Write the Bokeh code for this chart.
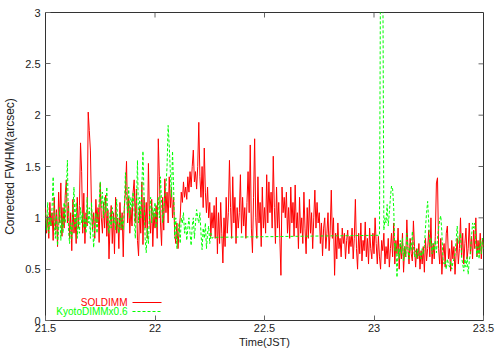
from bokeh.plotting import figure
from bokeh.models import Range1d, FixedTicker, Label, Arrow
from bokeh.embed import file_html
from bokeh.resources import INLINE

# ---------------- data ----------------
t0 = 21.5          # first sample time (JST hours)
dt = 0.005         # sampling step (hours)

sol_fwhm = [
    1.10, 0.85, 1.02, 0.80, 1.15, 0.92, 1.05, 0.78, 1.20, 0.88,
    1.08, 0.72, 1.25, 0.95, 1.34, 0.82, 1.10, 0.90, 1.22, 1.37,
    0.95, 1.15, 0.80, 1.05, 0.68, 1.18, 0.85, 1.00, 0.75, 1.20,
    0.90, 1.12, 1.73, 1.45, 0.85, 1.24, 0.75, 1.05, 0.92, 2.03,
    1.85, 1.66, 1.10, 0.88, 1.05, 0.80, 1.18, 0.95, 1.10, 0.76,
    1.34, 1.00, 0.85, 1.15, 0.90, 1.22, 0.82, 1.08, 0.60, 0.95,
    1.12, 0.75, 1.05, 0.65, 1.20, 0.85, 1.00, 0.70, 1.15, 0.88,
    1.05, 0.62, 1.10, 1.25, 1.55, 0.95, 1.20, 0.85, 1.10, 0.92,
    1.25, 1.37, 0.95, 1.28, 0.78, 0.63, 1.10, 0.85, 1.35, 0.74,
    1.20, 0.90, 1.15, 0.80, 1.53, 1.00, 0.85, 1.18, 0.72, 1.05,
    0.90, 1.12, 0.80, 1.77, 1.40, 0.95, 0.73, 1.20, 0.88, 1.38,
    1.05, 1.25, 0.95, 1.40, 1.10, 1.30, 1.00, 1.20, 0.85, 0.75,
    0.95, 0.70, 0.88, 1.00, 1.25, 1.15, 1.35, 1.20, 1.30, 1.18,
    1.40, 1.25, 1.45, 1.30, 1.50, 1.66, 1.35, 1.45, 1.28, 1.50,
    1.93, 1.40, 1.20, 1.50, 1.10, 1.68, 1.25, 1.05, 1.30, 1.00,
    1.15, 0.82, 1.05, 0.90, 1.12, 0.80, 1.20, 0.65, 1.05, 0.75,
    1.15, 0.85, 0.56, 1.00, 0.72, 1.20, 0.85, 1.05, 1.56, 1.10,
    0.80, 1.40, 0.95, 1.20, 0.75, 1.10, 0.90, 1.05, 1.42, 0.85,
    1.20, 0.92, 1.10, 0.80, 1.15, 1.45, 1.05, 1.71, 0.90, 0.66,
    1.20, 1.77, 1.00, 0.80, 1.40, 0.95, 1.15, 0.72, 1.30, 0.90,
    1.10, 0.85, 1.42, 0.95, 1.35, 1.05, 1.25, 0.90, 1.60, 1.10,
    0.75, 1.30, 0.90, 1.15, 0.80, 0.44, 1.30, 1.05, 1.20, 1.00,
    1.25, 0.85, 1.10, 0.80, 1.30, 0.95, 1.15, 0.82, 1.32, 0.90,
    1.05, 0.70, 1.20, 0.85, 1.00, 0.75, 1.25, 0.90, 0.65, 1.10,
    0.80, 1.18, 0.85, 1.05, 0.70, 1.00, 1.27, 0.90, 1.15, 0.95,
    1.05, 0.75, 0.95, 0.63, 0.90, 1.00, 0.70, 0.85, 1.05, 0.68,
    0.88, 1.27, 0.80, 1.00, 0.44, 0.85, 0.60, 0.95, 0.70, 0.80,
    0.62, 0.90, 0.75, 0.85, 0.60, 0.78, 0.88, 0.65, 0.82, 0.72,
    0.90, 0.60, 0.80, 1.18, 0.70, 0.50, 0.85, 0.65, 0.95, 0.58,
    0.78, 0.68, 0.96, 0.62, 0.80, 0.55, 0.90, 0.70, 0.60, 0.85,
    0.65, 1.00, 0.75, 0.55, 0.82, 0.62, 0.50, 0.78, 0.68, 0.85,
    0.55, 0.72, 0.60, 0.80, 0.52, 0.70, 0.85, 0.62, 0.95, 0.55,
    0.78, 0.65, 0.90, 0.50, 0.75, 0.60, 0.85, 0.47, 0.72, 0.62,
    0.98, 0.70, 0.55, 0.80, 0.65, 0.58, 0.97, 0.72, 0.52, 0.70,
    0.60, 0.75, 0.50, 0.68, 0.55, 0.72, 0.47, 0.80, 0.58, 0.70,
    0.88, 0.62, 1.00, 0.55, 0.75, 0.60, 0.82, 1.34, 1.39, 0.70,
    0.55, 0.80, 0.45, 0.65, 0.75, 0.52, 0.85, 0.92, 0.60, 0.70,
    0.48, 0.78, 0.60, 0.72, 0.45, 0.65, 0.80, 0.55, 0.70, 1.00,
    0.62, 0.85, 0.55, 0.75, 0.90, 0.60, 0.70, 0.95, 0.65, 0.82,
    0.60, 0.88, 0.70, 1.00, 0.62, 0.78, 0.65, 0.85, 0.60, 0.80,
    0.72,
]

# KyotoDIMM x0.6, first block (starts at t0)
kyoto_block1 = [
    1.05, 0.88, 1.15, 0.85, 1.00, 0.92, 1.10, 1.40, 0.95, 0.80,
    1.05, 0.73, 0.90, 1.10, 0.78, 1.00, 0.85, 1.15, 0.95, 1.25,
    1.56, 0.88, 0.75, 0.95, 0.80, 1.05, 1.30, 0.90, 1.15, 0.80,
    1.00, 0.85, 1.10, 0.95, 1.05, 0.90, 1.00, 0.85, 1.20, 0.95,
    1.10, 0.80, 1.15, 0.90, 0.71, 0.95, 1.05, 0.85, 1.00, 1.15,
    1.35, 1.10, 1.25, 1.00, 1.20, 1.05, 1.30, 0.95, 0.85, 1.05,
    0.90, 1.10, 0.95, 1.00, 0.88, 1.18, 0.95, 0.85, 1.05, 0.90,
    1.00, 0.88, 1.10, 1.44, 1.20, 1.05, 1.30, 1.00, 1.20, 1.10,
    1.25, 1.05, 0.80, 1.10, 1.56, 0.95, 1.20, 1.00, 1.30, 1.65,
    1.20, 0.80, 0.66, 0.90, 0.75, 1.05, 1.20, 0.95, 1.10, 1.00,
    1.15, 0.90, 1.05, 1.20, 1.00, 1.40, 1.15, 0.95, 1.08, 1.20,
    1.30, 1.50, 1.90, 1.70, 1.45, 1.20, 1.65, 1.30, 0.80, 1.00,
    0.70, 0.85, 0.95, 0.75, 1.00, 0.95, 1.05, 0.85, 0.95, 0.78,
    0.90, 1.00, 0.85, 0.73, 0.92, 1.00, 0.80, 0.95, 1.08, 1.00,
    0.95, 1.05, 0.85, 0.69, 0.90, 0.80, 0.95, 0.70, 0.85, 0.92,
    0.75, 0.85, 0.80, 0.81,
]

# KyotoDIMM x0.6, second block (after the data gap)
kyoto_block2_start = 23.025
kyoto_block2 = [
    0.83, 3.60, 3.60, 3.60, 0.88, 1.00, 0.95, 1.13, 0.92, 1.05,
    1.20, 1.31, 1.28, 1.10, 0.68, 0.75, 0.42, 0.70, 0.60, 0.78,
    0.65, 0.80, 0.58, 0.72, 0.62, 0.85, 0.70, 0.60, 0.75, 0.68,
    0.87, 0.72, 0.62, 0.68, 0.60, 0.70, 0.63, 0.66, 0.60, 0.70,
    0.64, 0.72, 0.90, 1.05, 1.16, 0.95, 0.72, 0.80, 0.65, 0.75,
    0.68, 0.78, 0.66, 0.80, 0.90, 0.98, 1.02, 0.85, 0.60, 0.55,
    0.58, 0.50, 0.60, 0.55, 0.52, 0.58, 0.50, 0.56, 0.60, 0.65,
    0.78, 0.92, 0.75, 0.80, 0.85, 0.62, 0.55, 0.48, 0.60, 0.52,
    0.62, 0.45, 0.58, 0.65, 0.80, 0.95, 0.90, 0.95, 0.75, 0.62,
    0.72, 0.60, 0.78, 0.65, 0.80, 0.70,
]

series_names = ["SOLDIMM", "KyotoDIMMx0.6"]
x_ticks = [21.5, 22.0, 22.5, 23.0, 23.5]
x_tick_labels = ["21.5", "22", "22.5", "23", "23.5"]
y_ticks = [0.0, 0.5, 1.0, 1.5, 2.0, 2.5, 3.0]
y_tick_labels = ["0", "0.5", "1", "1.5", "2", "2.5", "3"]
x_title = "Time(JST)"
y_title = "Corrected FWHM(arcsec)"

# ---------------- build ----------------
sol_time = [t0 + i * dt for i in range(len(sol_fwhm))]
kyoto_time = ([t0 + i * dt for i in range(len(kyoto_block1))] +
              [kyoto_block2_start + j * dt for j in range(len(kyoto_block2))])
kyoto_fwhm = kyoto_block1 + kyoto_block2

FONT = "Liberation Sans"
RED = "#ff0000"
GREEN = "#00ff00"
TICK = "#666666"
TEXT = "#222222"

W, H = 500, 350
BL, BR, BT, BB = 43, 17, 12, 30
FRAME_W, FRAME_H = W - BL - BR, H - BT - BB
TICK_LEN = 5

x0, x1 = x_ticks[0], x_ticks[-1]
y0, y1 = y_ticks[0], y_ticks[-1]

p = figure(width=W, height=H, output_backend="svg", toolbar_location=None,
           x_range=Range1d(x0, x1), y_range=Range1d(y0, y1),
           min_border_left=BL, min_border_right=BR, min_border_top=BT,
           min_border_bottom=BB)
p.grid.visible = False
p.outline_line_color = "#333333"
p.outline_line_width = 1
p.background_fill_color = "white"
p.border_fill_color = "white"

p.line(sol_time, sol_fwhm, line_color=RED, line_width=1)
p.line(kyoto_time, kyoto_fwhm, line_color=GREEN, line_width=1, line_dash="3 2")

for ax, ticks, labels, standoff in ((p.xaxis[0], x_ticks, x_tick_labels, 3),
                                    (p.yaxis[0], y_ticks, y_tick_labels, 5)):
    ax.ticker = FixedTicker(ticks=ticks)
    ax.major_label_overrides = {t: l for t, l in zip(ticks, labels)}
    ax.axis_line_color = None
    ax.major_tick_in = TICK_LEN
    ax.major_tick_out = 0
    ax.major_tick_line_color = TICK
    ax.minor_tick_line_color = None
    ax.major_label_text_font = FONT
    ax.major_label_text_font_size = "11px"
    ax.major_label_text_color = TEXT
    ax.major_label_standoff = standoff
    ax.axis_label_text_font = FONT
    ax.axis_label_text_font_style = "normal"
    ax.axis_label_text_color = TEXT

p.xaxis.axis_label = x_title
p.xaxis.axis_label_text_font_size = "11px"
p.xaxis.axis_label_standoff = 1
p.yaxis.axis_label = y_title
p.yaxis.axis_label_text_font_size = "12px"
p.yaxis.axis_label_standoff = 5

# mirrored inward ticks on the top and right borders (gnuplot style)
dy_tick = (y1 - y0) * TICK_LEN / FRAME_H
dx_tick = (x1 - x0) * TICK_LEN / FRAME_W
for t in x_ticks[1:-1]:
    p.add_layout(Arrow(end=None, x_start=t, y_start=y1, x_end=t, y_end=y1 - dy_tick,
                       line_color=TICK, line_width=1))
for t in y_ticks[1:-1]:
    p.add_layout(Arrow(end=None, x_start=x1, y_start=t, x_end=x1 - dx_tick, y_end=t,
                       line_color=TICK, line_width=1))

# gnuplot-style key: label first, sample line after it
for k, (name, col, dash) in enumerate([(series_names[0], RED, "solid"),
                                       (series_names[1], GREEN, "3 2")]):
    ypos = 18 - 9 * k
    p.add_layout(Label(x=82, y=ypos, x_units="screen", y_units="screen",
                       text=name, text_align="right", text_baseline="middle",
                       text_font=FONT, text_font_size="10px", text_color=col))
    p.add_layout(Arrow(end=None, x_start=87, y_start=ypos, x_end=116, y_end=ypos,
                       start_units="screen", end_units="screen",
                       line_color=col, line_width=1, line_dash=dash))

open("out.html", "w").write(file_html(p, INLINE))
